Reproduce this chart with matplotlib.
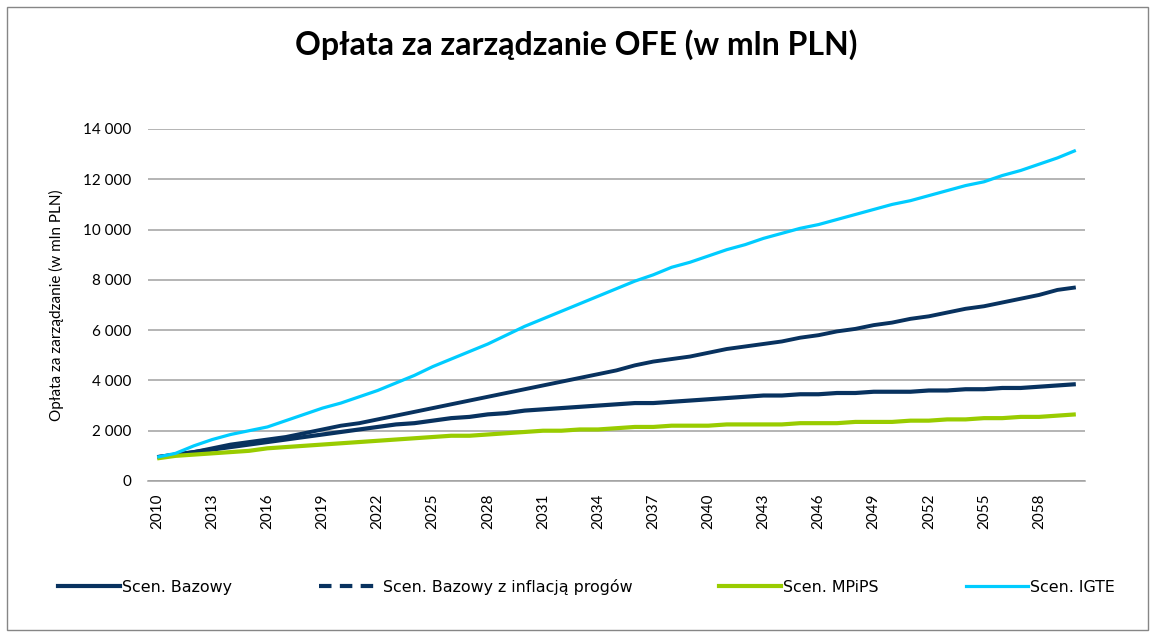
import matplotlib
matplotlib.use("Agg")
import matplotlib.pyplot as plt
from matplotlib.lines import Line2D
from matplotlib.patches import Rectangle
from matplotlib.ticker import FuncFormatter

years = list(range(2010, 2061))

bazowy = [950, 1050, 1150, 1250, 1350, 1450, 1550, 1650, 1750, 1850,
          1950, 2050, 2150, 2250, 2300, 2400, 2500, 2550, 2650, 2700,
          2800, 2850, 2900, 2950, 3000, 3050, 3100, 3100, 3150, 3200,
          3250, 3300, 3350, 3400, 3400, 3450, 3450, 3500, 3500, 3550,
          3550, 3550, 3600, 3600, 3650, 3650, 3700, 3700, 3750, 3800,
          3850]

bazowy_infl = [950, 1050, 1150, 1300, 1450, 1550, 1650, 1750, 1900, 2050,
               2200, 2300, 2450, 2600, 2750, 2900, 3050, 3200, 3350, 3500,
               3650, 3800, 3950, 4100, 4250, 4400, 4600, 4750, 4850, 4950,
               5100, 5250, 5350, 5450, 5550, 5700, 5800, 5950, 6050, 6200,
               6300, 6450, 6550, 6700, 6850, 6950, 7100, 7250, 7400, 7600,
               7700]

mpips = [900, 1000, 1050, 1100, 1150, 1200, 1300, 1350, 1400, 1450,
         1500, 1550, 1600, 1650, 1700, 1750, 1800, 1800, 1850, 1900,
         1950, 2000, 2000, 2050, 2050, 2100, 2150, 2150, 2200, 2200,
         2200, 2250, 2250, 2250, 2250, 2300, 2300, 2300, 2350, 2350,
         2350, 2400, 2400, 2450, 2450, 2500, 2500, 2550, 2550, 2600,
         2650]

igte = [950, 1100, 1400, 1650, 1850, 2000, 2150, 2400, 2650, 2900,
        3100, 3350, 3600, 3900, 4200, 4550, 4850, 5150, 5450, 5800,
        6150, 6450, 6750, 7050, 7350, 7650, 7950, 8200, 8500, 8700,
        8950, 9200, 9400, 9650, 9850, 10050, 10200, 10400, 10600, 10800,
        11000, 11150, 11350, 11550, 11750, 11900, 12150, 12350, 12600, 12850,
        13150]

xtick_years = list(range(2010, 2059, 3))
yticks = list(range(0, 14001, 2000))

series_labels = ["Scen. Bazowy", "Scen. Bazowy z inflacją progów",
                 "Scen. MPiPS", "Scen. IGTE"]
title = "Opłata za zarządzanie OFE (w mln PLN)"
ylabel = "Opłata za zarządzanie (w mln PLN)"

navy = "#08325f"
green = "#99cc00"
cyan = "#00ccff"

plt.rcParams['font.family'] = ['Lato', 'DejaVu Sans']

fig = plt.figure(figsize=(11.52, 6.37), dpi=100)
ax = fig.add_axes([148/1152, 1-481/637, (1085-148)/1152, (481-129)/637])

ax.plot(years, bazowy_infl, color=navy, lw=2.8, solid_capstyle='butt')
ax.plot(years, bazowy, color=navy, lw=3.0, solid_capstyle='butt')
ax.plot(years, mpips, color=green, lw=3.0, solid_capstyle='butt')
ax.plot(years, igte, color=cyan, lw=2.3, solid_capstyle='butt')

ax.set_xlim(2009.5, 2060.5)
ax.set_ylim(0, 14000)
ax.set_yticks(yticks)
ax.yaxis.set_major_formatter(FuncFormatter(lambda v, p: f"{int(v):,}".replace(",", " ")))
ax.set_xticks(xtick_years)
ax.set_xticklabels([str(y) for y in xtick_years], rotation=90, fontsize=11)
ax.tick_params(axis='y', labelsize=11, length=0, pad=12)
ax.tick_params(axis='x', length=0, pad=9)
ax.grid(axis='y', color='#a0a0a0', lw=1.1)
ax.set_axisbelow(True)
for s in ['left', 'right', 'top']:
    ax.spines[s].set_visible(False)
ax.spines['bottom'].set_color('#a0a0a0')
ax.spines['bottom'].set_linewidth(1.1)

ax.set_ylabel(ylabel, fontsize=11, labelpad=14)
fig.text(0.5, 1-45/637, title, ha='center', va='center', fontsize=23, fontweight='bold')

handles = [
    Line2D([], [], color=navy, lw=3.0),
    Line2D([], [], color=navy, lw=3.0, ls=(0, (3, 2))),
    Line2D([], [], color=green, lw=3.0),
    Line2D([], [], color=cyan, lw=2.3),
]
fs = 11.4
pt_px = 100/72
fig.legend(handles, series_labels, loc='center left', bbox_to_anchor=(58/1152, 1-587/637),
           ncol=4, frameon=False, handlelength=62/(fs*pt_px),
           prop={'family': 'DejaVu Sans', 'size': fs},
           handletextpad=0.12, columnspacing=87/(fs*pt_px), borderaxespad=0, borderpad=0)

fig.patches.append(Rectangle((7/1152, 7/637), 1141/1152, 623/637, transform=fig.transFigure,
                             fill=False, edgecolor='#868686', lw=1))

fig.savefig("out.png", dpi=100)
